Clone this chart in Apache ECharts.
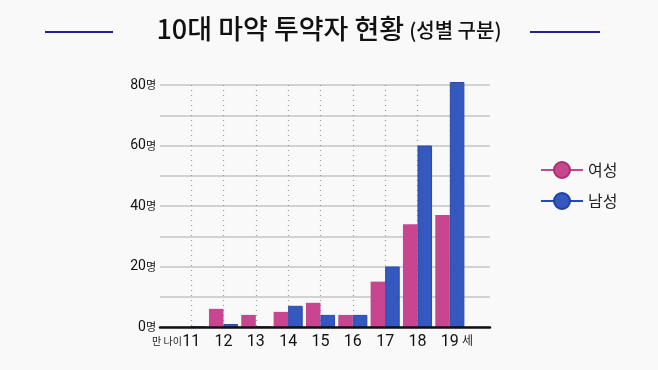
<!DOCTYPE html>
<html><head><meta charset="utf-8">
<script src="https://cdn.jsdelivr.net/npm/echarts@6/dist/echarts.min.js"></script>
<style>html,body{margin:0;padding:0;background:#f9f9f9}#c{width:658px;height:370px}</style>
</head><body><div id="c"></div>
<script>
const ages = ['11','12','13','14','15','16','17','18','19'];
const female = [0, 6, 4, 5, 8, 4, 15, 34, 37];
const male = [0, 1, 0, 7, 4, 4, 20, 60, 81];
const yTicks = [0, 20, 40, 60, 80];
const seriesNames = ['여성', '남성'];
const colors = ['#c8468f', '#3558bf'];

const FONT = "'Liberation Sans Narrow','Roboto','Noto Sans CJK KR',sans-serif";
const chart = echarts.init(document.getElementById('c'));
const gridTop = 85, gridBottom = 43;
chart.setOption({
  backgroundColor: '#f9f9f9',
  animation: false,
  title: {
    left: 'center', top: 10,
    text: '{a|10대 마약 투약자 현황} {b|(성별 구분)}',
    textStyle: {
      rich: {
        a: {fontSize: 27, fontWeight: 500, color: '#111', fontFamily: "'Noto Sans CJK KR'"},
        b: {fontSize: 20, fontWeight: 500, color: '#111', fontFamily: "'Noto Sans CJK KR'", padding: [3,0,0,0]}
      }
    }
  },
  graphic: [
    {type: 'line', shape: {x1: 45, y1: 32, x2: 113, y2: 32}, style: {stroke: '#25228a', lineWidth: 2}},
    {type: 'line', shape: {x1: 530, y1: 32, x2: 600, y2: 32}, style: {stroke: '#25228a', lineWidth: 2}},
    {type: 'text', left: 152, top: 336, style: {text: '만 나이', fontSize: 10, fill: '#222', fontFamily: "'Noto Sans CJK KR'"}},
    {type: 'text', left: 462, top: 334, style: {text: '세', fontSize: 12, fill: '#222', fontFamily: "'Noto Sans CJK KR'"}}
  ],
  legend: {
    orient: 'vertical', left: 535, top: 156, itemGap: 13,
    itemWidth: 42, itemHeight: 20,
    data: ['여성L', '남성L'],
    formatter: n => n.replace('L', ''),
    textStyle: {fontSize: 16, color: '#222', fontFamily: "'Noto Sans CJK KR'"}
  },
  grid: [
    {left: 160, right: 168, top: gridTop, bottom: gridBottom},
    {left: 191.3, right: 208, top: gridTop, bottom: gridBottom},
    {left: 175, right: 192, top: gridTop, bottom: gridBottom}
  ],
  xAxis: [
    {gridIndex: 0, type: 'value', min: 0, max: 1, z: 5,
     axisLine: {show: true, lineStyle: {color: '#111', width: 2.5}},
     axisTick: {show: false}, axisLabel: {show: false}, splitLine: {show: false}},
    {gridIndex: 1, type: 'value', min: 11, max: 19, interval: 1,
     axisLine: {show: false}, axisTick: {show: false}, axisLabel: {show: false},
     splitLine: {show: true, lineStyle: {color: '#9a9a9a', type: [1, 4], width: 1.2}}},
    {gridIndex: 2, type: 'category', data: ages,
     axisLine: {show: false}, axisTick: {show: false},
     axisLabel: {margin: 7, fontSize: 16, color: '#111', fontFamily: FONT}}
  ],
  yAxis: [
    {gridIndex: 0, type: 'value', min: 0, max: 80, interval: 10,
     axisLine: {show: false}, axisTick: {show: false},
     splitLine: {lineStyle: {color: '#c4c4c4', width: 1.5}},
     axisLabel: {margin: 4, formatter: v => yTicks.includes(v) ? '{n|' + v + '}{u|명}' : '',
       rich: {n: {fontSize: 14, color: '#111', fontFamily: FONT}, u: {fontSize: 11, color: '#111', fontFamily: "'Noto Sans CJK KR'"}}}},
    {gridIndex: 1, type: 'value', min: 0, max: 80, show: false},
    {gridIndex: 2, type: 'value', min: 0, max: 80, show: false}
  ],
  series: [
    {name: seriesNames[0], type: 'bar', xAxisIndex: 2, yAxisIndex: 2, data: female, clip: false,
     barGap: '0%', barCategoryGap: '10%', itemStyle: {color: colors[0]}},
    {name: seriesNames[1], type: 'bar', xAxisIndex: 2, yAxisIndex: 2, data: male, clip: false,
     barGap: '0%', barCategoryGap: '10%', itemStyle: {color: colors[1], borderColor: '#2a48a8', borderWidth: 1}},
    {name: '여성L', type: 'line', xAxisIndex: 2, yAxisIndex: 2, data: [], symbol: 'circle', symbolSize: 18,
     itemStyle: {color: colors[0], borderColor: '#a8306f', borderWidth: 1}, lineStyle: {color: colors[0], width: 2.5}},
    {name: '남성L', type: 'line', xAxisIndex: 2, yAxisIndex: 2, data: [], symbol: 'circle', symbolSize: 18,
     itemStyle: {color: colors[1], borderColor: '#20409f', borderWidth: 1}, lineStyle: {color: '#2548b5', width: 2.5}}
  ]
});
</script></body></html>
